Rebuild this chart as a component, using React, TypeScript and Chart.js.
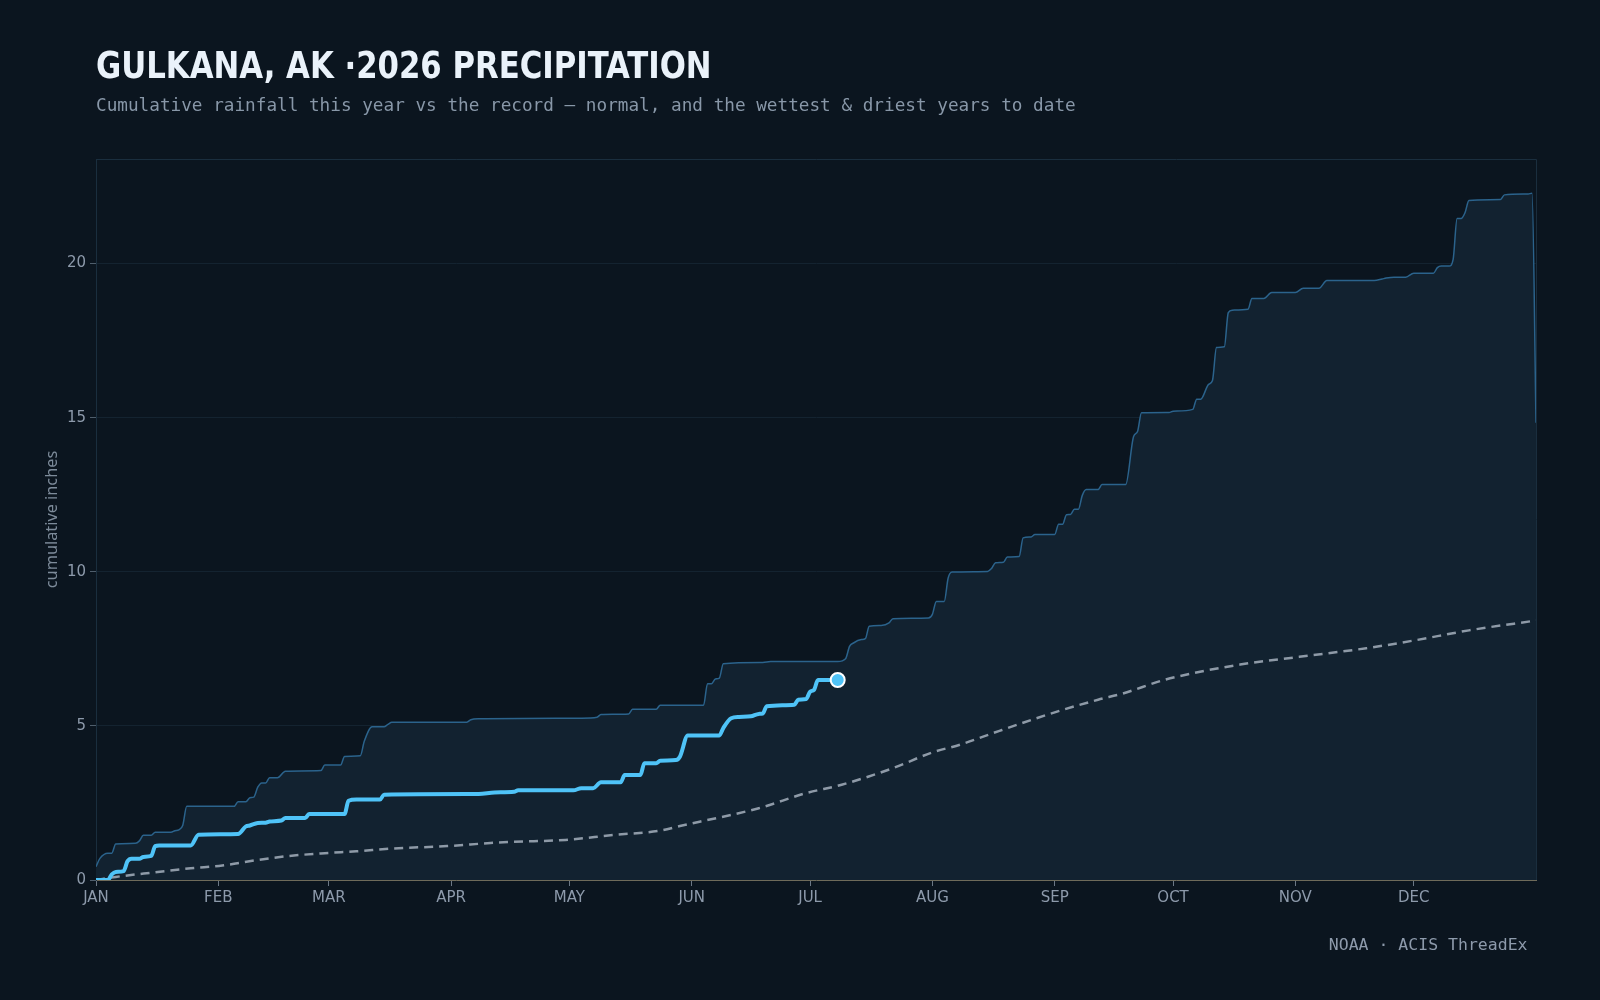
import { useEffect, useRef } from 'react';
import { Chart, registerables } from 'chart.js';

Chart.register(...registerables);

// Day-of-year positions (0 = Jan 1) for month ticks
const monthStartDays = [0, 31, 59, 90, 120, 151, 181, 212, 243, 273, 304, 334];
const monthLabels = ['JAN', 'FEB', 'MAR', 'APR', 'MAY', 'JUN', 'JUL', 'AUG', 'SEP', 'OCT', 'NOV', 'DEC'];
const yTickValues = [0, 5, 10, 15, 20];

// Wettest year on record, cumulative inches by day of year
const wettestDays = [
  0, 1, 3, 4, 5, 10, 11, 12, 14, 15, 19, 20, 21, 22, 23, 35, 36, 38, 39, 40, 41, 42, 43, 44, 46, 48,
  57, 58, 62, 63, 67, 68, 70, 73, 74, 75, 94, 95, 97, 123, 127, 128, 135, 136, 142, 143, 154, 155,
  156, 157, 158, 159, 169, 171, 188, 190, 191, 192, 194, 195, 196, 199, 201, 202, 211, 212, 213,
  215, 216, 217, 226, 227, 228, 230, 231, 234, 235, 237, 238, 243, 244, 245, 246, 247, 248, 249,
  250, 251, 254, 255, 261, 263, 264, 265, 272, 273, 278, 279, 280, 282, 283, 284, 286, 287, 288,
  292, 293, 296, 298, 304, 306, 310, 312, 324, 326, 327, 329, 332, 334, 339, 340, 341, 343, 344,
  345, 346, 347, 348, 356, 357, 363, 364, 365,
];
const wettestInches = [
  0.43, 0.7, 0.87, 0.87, 1.17, 1.19, 1.27, 1.45, 1.45, 1.55, 1.55, 1.6, 1.63, 1.78, 2.39, 2.39, 2.54,
  2.54, 2.67, 2.69, 3.01, 3.15, 3.15, 3.32, 3.32, 3.53, 3.55, 3.73, 3.73, 4.01, 4.03, 4.5, 4.97, 4.97,
  5.05, 5.12, 5.12, 5.2, 5.23, 5.25, 5.28, 5.37, 5.39, 5.54, 5.54, 5.67, 5.67, 6.37, 6.37, 6.52, 6.55,
  7.02, 7.06, 7.09, 7.09, 7.18, 7.58, 7.69, 7.8, 7.83, 8.23, 8.26, 8.34, 8.48, 8.5, 8.62, 9.04, 9.04,
  9.8, 9.99, 10.01, 10.11, 10.29, 10.31, 10.48, 10.5, 11.1, 11.13, 11.21, 11.21, 11.54, 11.54, 11.85,
  11.86, 12.03, 12.03, 12.48, 12.67, 12.67, 12.83, 12.83, 14.39, 14.55, 15.16, 15.17, 15.21, 15.27,
  15.6, 15.6, 16.08, 16.21, 17.28, 17.3, 18.41, 18.49, 18.52, 18.87, 18.87, 19.06, 19.06, 19.2, 19.2,
  19.45, 19.45, 19.5, 19.53, 19.56, 19.56, 19.69, 19.69, 19.87, 19.92, 19.92, 20.14, 21.46, 21.46,
  21.65, 22.05, 22.08, 22.23, 22.26, 22.28, 14.84,
];

// 2026 so far
const currentDays = [
  0, 3, 4, 5, 7, 8, 9, 11, 12, 14, 15, 16, 24, 26, 36, 38, 39, 41, 43, 44, 47, 48, 53, 54, 63, 64,
  66, 72, 73, 97, 101, 106, 107, 121, 123, 126, 128, 133, 134, 138, 139, 142, 143, 147, 148, 150,
  158, 159, 161, 163, 166, 168, 169, 170, 177, 178, 180, 181, 182, 183, 188,
];
const currentInches = [
  0, 0, 0.18, 0.26, 0.29, 0.61, 0.69, 0.69, 0.75, 0.78, 1.1, 1.12, 1.12, 1.47, 1.49, 1.74, 1.77, 1.85,
  1.86, 1.9, 1.93, 2.01, 2.01, 2.14, 2.14, 2.57, 2.61, 2.61, 2.77, 2.79, 2.84, 2.86, 2.91, 2.91, 2.98,
  2.98, 3.17, 3.17, 3.41, 3.41, 3.79, 3.79, 3.87, 3.89, 4.0, 4.69, 4.69, 4.93, 5.25, 5.29, 5.31, 5.39,
  5.4, 5.64, 5.69, 5.85, 5.87, 6.11, 6.17, 6.49, 6.49,
];

// Normal cumulative precipitation
const normalDays = [
  0, 5, 15, 24, 32, 41, 49, 58, 66, 75, 89, 100, 106, 119, 131, 143, 148, 153, 168, 180, 189, 202,
  212, 219, 229, 243, 254, 260, 271, 290, 305, 322, 334, 348, 365,
];
const normalInches = [
  0, 0.1, 0.25, 0.38, 0.47, 0.65, 0.78, 0.87, 0.93, 1.02, 1.1, 1.2, 1.24, 1.3, 1.46, 1.6, 1.75, 1.89,
  2.33, 2.82, 3.09, 3.63, 4.14, 4.39, 4.84, 5.44, 5.85, 6.04, 6.5, 6.99, 7.24, 7.52, 7.77, 8.1, 8.42,
];

const BG = '#0b151f';
const FILL = '#122230';
const WET_LINE = '#2b638c';
const CURRENT = '#4fc3f7';
const NORMAL = '#8e9aa7';
const GRID = '#142330';
const FRAME = '#1a2e3e';
const BASELINE = '#6f6b5a';
const TICK_TEXT = '#8d9aab';

const W = 1600;
const H = 1000;

const pts = (xs: number[], ys: number[]) => xs.map((x, i) => ({ x, y: ys[i] }));

const decorPlugin = {
  id: 'decor',
  beforeDraw(chart: Chart) {
    const { ctx } = chart;
    ctx.save();
    ctx.fillStyle = BG;
    ctx.fillRect(0, 0, W, H);
    ctx.restore();
  },
  beforeDatasetsDraw(chart: Chart) {
    const { ctx, chartArea: a } = chart;
    ctx.save();
    ctx.strokeStyle = FRAME;
    ctx.lineWidth = 1;
    ctx.beginPath();
    ctx.moveTo(a.left, a.top + 0.5);
    ctx.lineTo(a.right + 0.5, a.top + 0.5);
    ctx.lineTo(a.right + 0.5, a.bottom);
    ctx.stroke();
    ctx.restore();
  },
  afterDraw(chart: Chart) {
    const { ctx, chartArea: a } = chart;
    ctx.save();
    ctx.textBaseline = 'alphabetic';
    ctx.textAlign = 'left';

    // Title in a condensed bold face, narrowed a touch further
    ctx.save();
    ctx.translate(96, 77.5);
    ctx.scale(0.9, 1);
    ctx.fillStyle = '#eaf2fa';
    ctx.font = 'bold 38px "Liberation Sans Narrow", "DejaVu Sans Condensed", sans-serif';
    ctx.fillText('GULKANA, AK ·2026 PRECIPITATION', 0, 0);
    ctx.restore();

    ctx.fillStyle = '#8897a8';
    ctx.font = '17.7px "DejaVu Sans Mono", monospace';
    ctx.fillText(
      'Cumulative rainfall this year vs the record — normal, and the wettest & driest years to date',
      96,
      111
    );

    ctx.textAlign = 'right';
    ctx.fillStyle = TICK_TEXT;
    ctx.font = '16.5px "DejaVu Sans Mono", monospace';
    ctx.fillText('NOAA · ACIS ThreadEx', 1527.5, 950);

    ctx.translate(52, (a.top + a.bottom) / 2);
    ctx.rotate(-Math.PI / 2);
    ctx.textAlign = 'center';
    ctx.textBaseline = 'middle';
    ctx.fillStyle = '#7d8b9a';
    ctx.font = '16.3px "Noto Sans", sans-serif';
    ctx.fillText('cumulative inches', 0, 0);
    ctx.restore();
  },
};

export default function App() {
  const canvasRef = useRef<HTMLCanvasElement | null>(null);

  useEffect(() => {
    document.body.style.margin = '0';
    document.body.style.background = BG;
    const canvas = canvasRef.current;
    if (!canvas) return;
    const yMax = Math.max(...wettestInches) * 1.05;
    const lastCurrent = currentDays.length - 1;

    const chart = new Chart(canvas, {
      type: 'line',
      data: {
        datasets: [
          {
            label: '2026',
            data: pts(currentDays, currentInches),
            borderColor: CURRENT,
            borderWidth: 4,
            cubicInterpolationMode: 'monotone',
            pointRadius: (c: any) => (c.dataIndex === lastCurrent ? 7 : 0),
            pointBackgroundColor: CURRENT,
            pointBorderColor: '#ffffff',
            pointBorderWidth: 2,
            fill: false,
            order: 0,
          },
          {
            label: 'Normal',
            data: pts(normalDays, normalInches),
            borderColor: NORMAL,
            borderWidth: 2.5,
            borderDash: [9, 6],
            pointRadius: 0,
            cubicInterpolationMode: 'monotone',
            fill: false,
            order: 1,
          },
          {
            label: 'Wettest',
            data: pts(wettestDays, wettestInches),
            borderColor: WET_LINE,
            borderWidth: 1.5,
            backgroundColor: FILL,
            pointRadius: 0,
            cubicInterpolationMode: 'monotone',
            fill: 'origin',
            order: 2,
          },
        ],
      },
      options: {
        responsive: false,
        animation: false,
        layout: { padding: { left: 0, right: 64, top: 159, bottom: 80 } },
        plugins: {
          legend: { display: false },
          tooltip: { enabled: false },
          title: { display: false },
        },
        scales: {
          x: {
            type: 'linear',
            min: 0,
            max: 365,
            afterFit: (s: any) => {
              s.height = 40;
            },
            afterBuildTicks: (s: any) => {
              s.ticks = monthStartDays.map((v) => ({ value: v }));
            },
            ticks: {
              autoSkip: false,
              maxRotation: 0,
              padding: 3,
              color: TICK_TEXT,
              font: { family: '"DejaVu Sans", sans-serif', size: 15 },
              callback: (v: any) => monthLabels[monthStartDays.indexOf(Number(v))] ?? '',
            },
            grid: {
              drawOnChartArea: false,
              tickLength: 6,
              tickColor: '#6c7886',
            },
            border: { color: BASELINE, width: 1 },
          },
          y: {
            type: 'linear',
            min: 0,
            max: yMax,
            afterFit: (s: any) => {
              s.width = 96;
            },
            afterBuildTicks: (s: any) => {
              s.ticks = yTickValues.map((v) => ({ value: v }));
            },
            ticks: {
              padding: 4,
              color: TICK_TEXT,
              font: { family: '"DejaVu Sans", sans-serif', size: 15 },
            },
            grid: {
              color: (c: any) => (c.tick && c.tick.value === 0 ? 'rgba(0,0,0,0)' : GRID),
              tickLength: 6,
              tickColor: '#4f5e6c',
            },
            border: { color: FRAME, width: 1 },
          },
        },
      },
      plugins: [decorPlugin],
    });

    return () => chart.destroy();
  }, []);

  return (
    <div style={{ position: 'fixed', left: 0, top: 0, width: W, height: H, background: BG }}>
      <canvas ref={canvasRef} width={W} height={H} style={{ display: 'block', width: W, height: H }} />
    </div>
  );
}
